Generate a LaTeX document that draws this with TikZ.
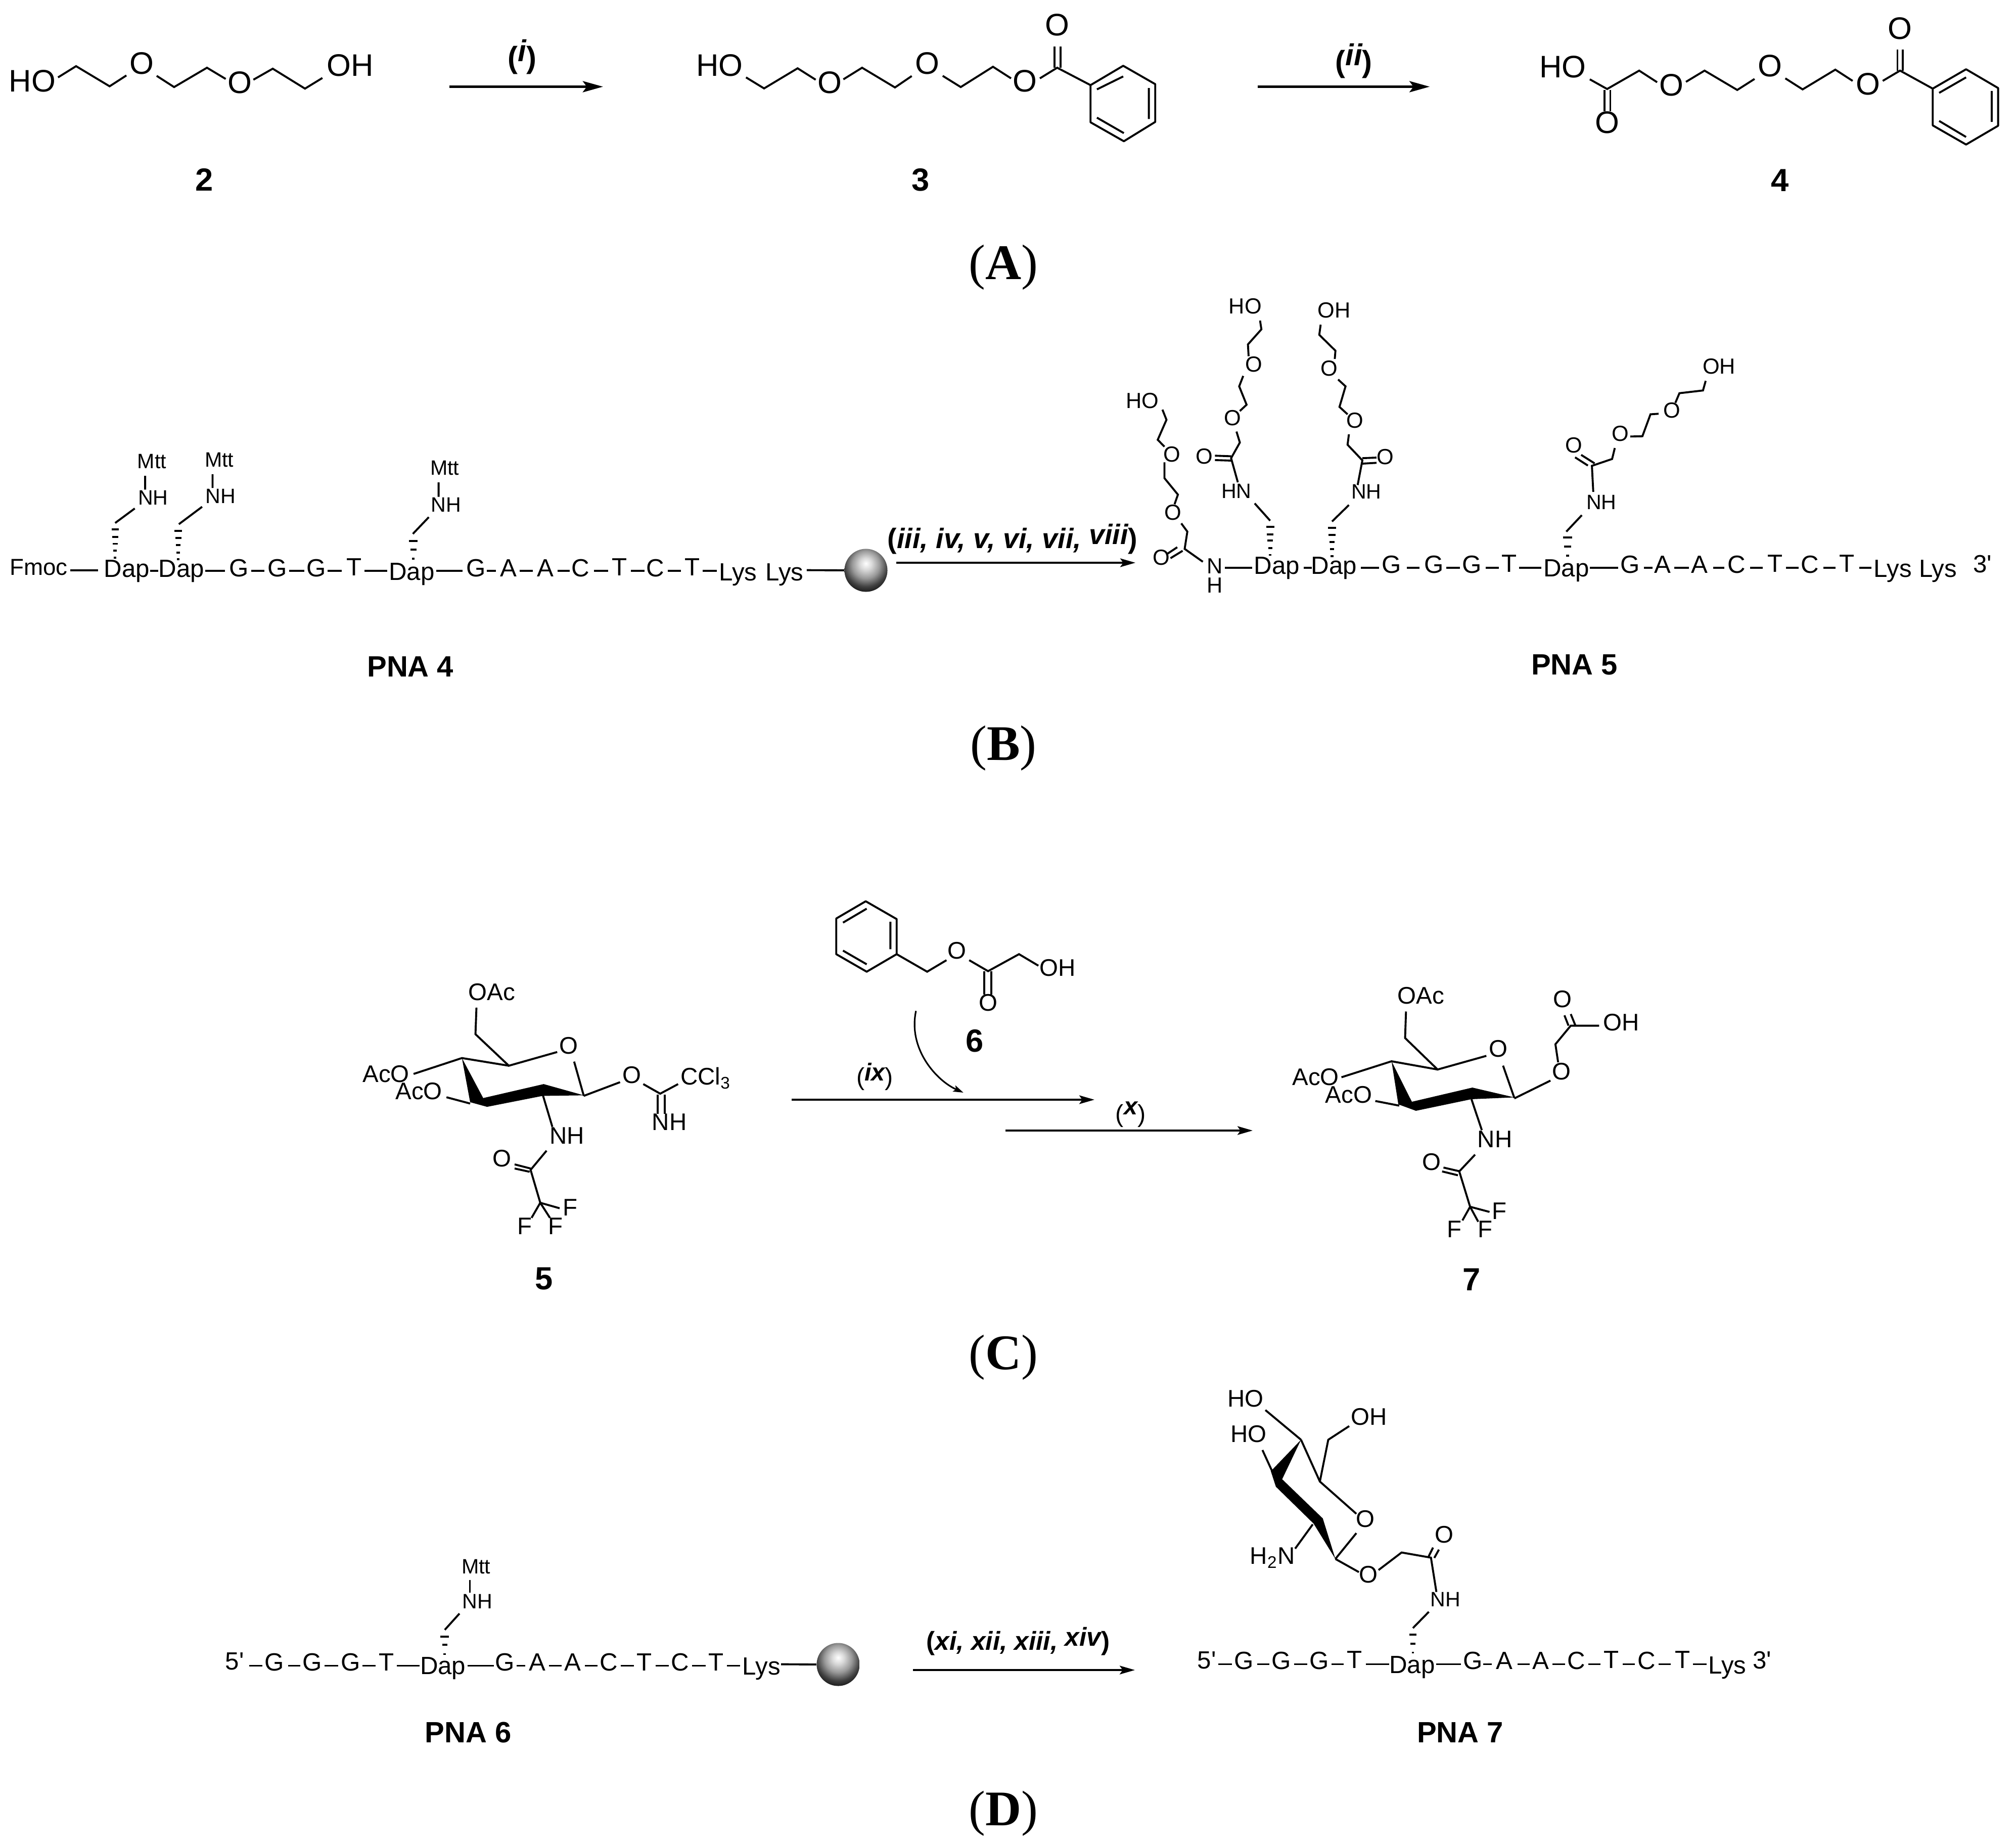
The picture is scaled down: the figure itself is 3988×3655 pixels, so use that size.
\documentclass[tikz,border=0pt]{standalone}
\usepackage{fontspec}
\setmainfont{Liberation Sans}
\newfontfamily\tmsfont{Liberation Serif}
\usetikzlibrary{arrows.meta}
\pgfdeclareradialshading{beadshade}{\pgfpoint{0bp}{8bp}}{color(0bp)=(white);color(7bp)=(gray!30);color(16bp)=(gray!80);color(25bp)=(black!75);color(32bp)=(black!92);color(100bp)=(black)}
\tikzset{
  bond/.style={line width=1.1pt},
  rxnbig/.style={line width=1.3pt,-{Stealth[length=0.4cm,width=0.22cm,inset=0.08cm]}},
  rxn/.style={line width=1.1pt,-{Stealth[length=0.3cm,width=0.17cm,inset=0.06cm]}},
  atA/.style={inner sep=0pt,font=\fontsize{17.5}{18}\selectfont},
  atB/.style={inner sep=0pt,font=\fontsize{12.3}{13}\selectfont},
  atC/.style={inner sep=0pt,font=\fontsize{13.5}{14}\selectfont},
  sml/.style={inner sep=0pt,font=\fontsize{11.7}{12}\selectfont},
  chn/.style={inner sep=0pt,anchor=base,font=\fontsize{14}{15}\selectfont},
  cmpd/.style={inner sep=0pt,font=\fontsize{18}{19}\selectfont\bfseries},
  pna/.style={inner sep=0pt,font=\fontsize{16.5}{18}\selectfont\bfseries},
  part/.style={inner sep=0pt,font=\tmsfont\fontsize{28}{30}\selectfont},
  reagA/.style={inner sep=0pt,font=\fontsize{17}{18}\selectfont\bfseries},
  reagB/.style={inner sep=0pt,font=\fontsize{15.8}{17}\selectfont\bfseries},
  reagC/.style={inner sep=0pt,font=\fontsize{14.6}{16}\selectfont\bfseries},
  reagD/.style={inner sep=0pt,font=\fontsize{13.8}{15}\selectfont},
  bead/.style={circle,inner sep=0pt,minimum size=0.85cm,shading=beadshade},
  zoneA/.style={xscale=1.2755,yscale=.3827},
  zoneB/.style={shift={(2000,0)},xscale=1.2679,yscale=.3827},
  zoneC/.style={shift={(0,800)},xscale=1.2117,yscale=.4783},
  zoneD/.style={shift={(1900,550)},xscale=1.3316,yscale=.5421},
  zoneE/.style={shift={(600,1750)},xscale=.9566,yscale=.5421},
  zoneF/.style={shift={(2000,1850)},xscale=.8929,yscale=.5102},
  zoneG/.style={shift={(2300,2720)},xscale=.8291,yscale=.5102},
  zoneH/.style={shift={(400,3000)},xscale=1.2117,yscale=.4177},
}
\newcommand{\rs}[2]{\raisebox{#1}{\itshape #2}}
\begin{document}
\begin{tikzpicture}[x=0.01cm,y=-0.01cm]
\fill[white] (0,0) rectangle (3988,3655);
\useasboundingbox (0,0) rectangle (3988,3655);

% ---------- (A)
\begin{scope}[zoneA]
  \node[atA] (a2ho) at (50,418) {HO};
  \draw[bond] (90,400)--(118,342)--(170,446)--(196,390);
  \node[atA] (a2o1) at (220,327) {O};
  \draw[bond] (243,392)--(270,450)--(321,350)--(350,408);
  \node[atA] (a2o2) at (372,428) {O};
  \draw[bond] (393,412)--(423,355)--(473,458)--(500,403);
  \node[atA] (a2oh) at (543,338) {OH};
  \node[cmpd] (a2lab) at (317,928) {2};
  \node[atA] (a3ho) at (1116,337) {HO};
  \draw[bond] (1157,400)--(1185,457)--(1237,353)--(1265,412);
  \node[atA] (a3o1) at (1287,428) {O};
  \draw[bond] (1308,410)--(1337,350)--(1388,452)--(1414,393);
  \node[atA] (a3o2) at (1438,327) {O};
  \draw[bond] (1462,392)--(1490,450)--(1540,345)--(1568,405);
  \node[cmpd] (a3lab) at (1428,930) {3};
  \coordinate (a1s) at (697,448);
  \coordinate (a1e) at (935,448);
  \draw[rxnbig] (a1s)--(a1e);
  \node[reagA] (r1) at (810,295) {(\rs{0.13cm}{i})};
\end{scope}
\begin{scope}[zoneB]
  \node[atA] (a3o3) at (22,420) {O};
  \draw[bond] (45,405)--(72,350)--(124,440);
  \draw[bond] (68,240)--(68,350) (77,240)--(77,350);
  \node[atA] (a3o4) at (72,130) {O};
  \draw[bond,line join=round] (124,440)--(175,340)--(225,435)--(225,630)--(176,730)--(124,632)--cycle;
  \draw[bond] (134,462)--(175,395) (215,455)--(215,615) (134,608)--(176,688);
  \coordinate (a2s) at (385,448);
  \coordinate (a2e) at (653,448);
  \draw[rxnbig] (a2s)--(a2e);
  \node[reagA] (r2) at (535,315) {(\rs{0.13cm}{ii})};
  \node[atA] (a4ho) at (861,345) {HO};
  \draw[bond] (903,410)--(930,460)--(980,365)--(1008,425);
  \draw[bond] (926,465)--(926,575) (935,465)--(935,575);
  \node[atA] (a4o0) at (930,632) {O};
  \node[atA] (a4o1) at (1030,440) {O};
  \draw[bond] (1053,423)--(1082,365)--(1133,465)--(1160,408);
  \node[atA] (a4o2) at (1184,340) {O};
  \draw[bond] (1208,405)--(1235,462)--(1286,360)--(1313,418);
  \node[atA] (a4o3) at (1337,435) {O};
  \draw[bond] (1360,418)--(1387,365)--(1438,458);
  \draw[bond] (1383,255)--(1383,365) (1391,255)--(1391,365);
  \node[atA] (a4o4) at (1387,147) {O};
  \draw[bond,line join=round] (1438,458)--(1490,358)--(1540,455)--(1540,650)--(1490,747)--(1438,648)--cycle;
  \draw[bond] (1448,480)--(1490,400) (1530,470)--(1530,630) (1448,625)--(1490,708);
  \node[cmpd] (a4lab) at (1200,932) {4};
\end{scope}
\node[part] (partA) at (1985,529) {(\textbf{A})};

% ---------- (B) left
\begin{scope}[zoneC]
  \node[chn,font=\fontsize{13}{14}\selectfont] (fm) at (63,705) {Fmoc};
  \draw[bond] (115,685)--(160,685);
  \foreach \x/\y/\t in {207/715/Dap,296/715/Dap,390/712/G,453/712/G,516/712/G,578/708/T,672/727/Dap,777/712/G,830/712/A,890/712/A,948/712/C,1011/708/T,1070/712/C,1130/708/T,1205/729/Lys,1281/729/Lys}
    \node[chn] (bl\x) at (\x,\y) {\t};
  \foreach \a/\b in {245/258,335/367,410/432,472/497,535/558,595/632,712/755,795/810,848/870,910/930,970/993,1030/1052,1090/1112,1147/1170}
    \draw[bond] (\a,688)--(\b,688);
  % side chains
  \draw[bond] (188,490)--(220,430) (237,295)--(237,352);
  \node[sml] (blm1) at (248,235) {Mtt};
  \node[sml] (bln1) at (250,385) {NH};
  \draw[bond] (292,495)--(330,423) (347,288)--(347,345);
  \node[sml] (blm2) at (358,228) {Mtt};
  \node[sml] (bln2) at (360,380) {NH};
  \draw[bond] (674,535)--(700,466) (716,322)--(716,382);
  \node[sml] (blm3) at (726,262) {Mtt};
  \node[sml] (bln3) at (728,415) {NH};
  \foreach \y/\w in {517/6,548/5,576/4,605/3,634/2}
    \draw[bond] (188-\w,\y)--(188+\w,\y);
  \foreach \y/\w in {522/6,552/5,582/4,612/3,640/2}
    \draw[bond] (291-\w,\y)--(291+\w,\y);
  \foreach \y/\w in {565/7,600/5,637/2}
    \draw[bond] (675-\w,\y)--(675+\w,\y);
  \node[pna] (pna4) at (670,1085) {PNA 4};
\end{scope}
\node[bead] (bead1) at (1713,1128) {};
\begin{scope}[zoneC]
  \draw[bond] (1317,685)--(bead1.west);
\end{scope}
% arrow B
\coordinate (a3s) at (1773,1113);
\coordinate (a3e) at (2246,1113);
\draw[rxn] (a3s)--(a3e);
\node[reagB] (r3) at (2003,1066) {(\rs{0pt}{iii, iv, v, vi, vii, }\rs{0.08cm}{viii})};

% ---------- (B) right
\begin{scope}[zoneD]
  \foreach \x/\y/\t in {470/1080/Dap,555/1080/Dap,640/1077/G,703/1077/G,760/1077/G,815/1073/T,900/1090/Dap,995/1077/G,1043/1077/A,1098/1077/A,1153/1077/C,1210/1073/T,1262/1077/C,1317/1073/T,1385/1092/Lys,1452/1092/Lys,1518/1075/3\textquotesingle}
    \node[chn] (br\x) at (\x,\y) {\t};
  \foreach \a/\b in {393/433,510/522,595/622,663/682,722/742,780/800,830/863,935/977,1015/1028,1060/1082,1118/1135,1173/1192,1226/1245,1282/1300,1335/1353}
    \draw[bond] (\a,1057)--(\b,1057);
  % branch 1
  \node[atB] (b1ho) at (270,447) {HO};
  \draw[bond] (300,480)--(306,517)--(293,590)--(303,615);
  \node[atB] (b1o1) at (314,643) {O};
  \draw[bond] (303,672)--(303,730)--(323,790)--(318,825);
  \node[atB] (b1o2) at (316,855) {O};
  \draw[bond] (328,895)--(337,925)--(333,988)--(360,1035);
  \draw[bond] (330,995)--(312,1022) (322,982)--(306,1008);
  \node[atB] (b1o3) at (298,1020) {O};
  \node[atB] (b1n) at (378,1050) {N};
  \node[atB] (b1h) at (378,1120) {H};
  % branch 2
  \node[atB] (b2ho) at (423,102) {HO};
  \draw[bond] (445,155)--(447,187)--(427,242)--(428,285);
  \node[atB] (b2o1) at (436,315) {O};
  \draw[bond] (420,357)--(414,395)--(425,462)--(415,485);
  \node[atB] (b2o2) at (404,510) {O};
  \draw[bond] (410,560)--(415,600)--(402,657)--(412,745);
  \draw[bond] (378,648)--(402,650) (378,664)--(403,666);
  \node[atB] (b2o3) at (362,650) {O};
  \node[sml] (b2n) at (410,778) {HN};
  \draw[bond] (437,822)--(460,885);
  \foreach \y/\w in {907/6,935/5,958/4,985/3,1010/2}
    \draw[bond] (460-\w,\y)--(460+\w,\y);
  % branch 3
  \node[atB] (b3oh) at (555,118) {OH};
  \draw[bond] (535,170)--(533,207)--(557,265)--(556,295);
  \node[atB] (b3o1) at (548,330) {O};
  \draw[bond] (561,370)--(572,395)--(563,470)--(575,497);
  \node[atB] (b3o2) at (586,520) {O};
  \draw[bond] (577,570)--(575,608)--(597,665)--(590,755);
  \draw[bond] (597,657)--(618,655) (597,677)--(618,674);
  \node[atB] (b3o3) at (631,652) {O};
  \node[sml] (b3n) at (603,780) {NH};
  \draw[bond] (577,828)--(552,888);
  \foreach \y/\w in {912/6,937/5,963/4,988/3,1015/2}
    \draw[bond] (552-\w,\y)--(552+\w,\y);
  % branch 4
  \node[atB] (b4oh) at (1127,323) {OH};
  \draw[bond] (1107,375)--(1103,410)--(1068,420)--(1062,455);
  \node[atB] (b4o1) at (1057,483) {O};
  \draw[bond] (1037,495)--(1025,497)--(1013,577)--(995,578);
  \node[atB] (b4o2) at (980,568) {O};
  \draw[bond] (972,620)--(968,660)--(938,685)--(940,780);
  \draw[bond] (942,676)--(922,645) (932,684)--(913,654);
  \node[atB] (b4o3) at (911,610) {O};
  \node[sml] (b4n) at (952,817) {NH};
  \draw[bond] (923,865)--(900,925);
  \foreach \y/\w in {947/7,980/5,1012/2}
    \draw[bond] (902-\w,\y)--(902+\w,\y);
  \node[pna] (pna5) at (912,1410) {PNA 5};
\end{scope}
\node[part] (partB) at (1985,1480) {(\textbf{B})};

% ---------- (C) left
\begin{scope}[zoneE]
  \node[atC] (c5oac) at (390,392) {OAc};
  \draw[bond] (358,448)--(356,545)--(425,660)--(525,610);
  \node[atC] (c5o) at (549,587) {O};
  \draw[bond] (560,645)--(580,770);
  \draw[bond] (425,660)--(328,632)--(228,690);
  \node[atC] (c5ac1) at (171,690) {AcO};
  \node[atC] (c5ac2) at (239,752) {AcO};
  \draw[bond] (296,775)--(345,798);
  \fill (328,632)--(372,778)--(497,727)--(580,768)--(495,770)--(380,810)--(345,793)--cycle;
  \draw[bond] (495,765)--(515,883);
  \node[atC] (c5nh) at (545,915) {NH};
  \draw[bond] (580,770)--(655,720);
  \node[atC] (c5o2) at (679,693) {O};
  \draw[bond] (703,727)--(738,762)--(775,727);
  \node[atC] (c5ccl) at (832,706) {CCl$_{\mathrm{3}}$};
  \draw[bond] (733,765)--(733,835) (747,765)--(747,835);
  \node[atC] (c5nh2) at (757,865) {NH};
  \draw[bond] (503,970)--(470,1040)--(490,1160)--(530,1180);
  \draw[bond] (437,1020)--(470,1035) (437,1035)--(468,1047);
  \node[atC] (c5co) at (411,998) {O};
  \draw[bond] (472,1215)--(490,1160)--(510,1215);
  \node[atC] (c5f1) at (552,1178) {F};
  \node[atC] (c5f2) at (458,1245) {F};
  \node[atC] (c5f3) at (522,1245) {F};
  \node[cmpd] (c5lab) at (498,1437) {5};
  % compound 6
  \draw[bond,line join=round] (1163,60)--(1227,125)--(1227,253)--(1165,317)--(1102,253)--(1102,123)--cycle;
  \draw[bond] (1116,138)--(1165,87) (1214,135)--(1214,235) (1116,240)--(1165,290);
  \draw[bond] (1227,253)--(1290,317)--(1330,275);
  \node[atC] (c6o) at (1352,240) {O};
  \draw[bond] (1377,275)--(1416,315)--(1480,253)--(1520,295);
  \draw[bond] (1408,315)--(1408,400) (1423,315)--(1423,400);
  \node[atC] (c6co) at (1416,430) {O};
  \node[atC] (c6oh) at (1560,302) {OH};
  \node[cmpd] (c6lab) at (1388,570) {6};
  \coordinate (c6s) at (1267,460);
  \coordinate (c6e) at (1365,758);
  \draw[line width=0.9pt,-{Stealth[length=0.2cm,width=0.13cm,inset=0.04cm]}] (c6s) .. controls (1250,600) and (1310,715) .. (c6e);
  \node[reagD] (r9) at (1182,700) {(\textbf{\rs{0.09cm}{ix}})};
\end{scope}
\coordinate (c1s) at (1566,2175);
\coordinate (c1e) at (2165,2175);
\draw[rxn] (c1s)--(c1e);
\coordinate (c2s) at (1989,2236);
\coordinate (c2e) at (2478,2236);
\draw[rxn] (c2s)--(c2e);

% ---------- (C) right
\begin{scope}[zoneF]
  \node[reagD] (r10) at (265,695) {(\textbf{\rs{0.15cm}{x}})};
  \node[atC] (c7oac) at (908,233) {OAc};
  \draw[bond] (875,295)--(873,398)--(945,520)--(1053,467);
  \node[atC] (c7o) at (1080,440) {O};
  \draw[bond] (1090,505)--(1115,630);
  \draw[bond] (945,520)--(843,488)--(732,550);
  \node[atC] (c7ac1) at (675,550) {AcO};
  \node[atC] (c7ac2) at (748,618) {AcO};
  \draw[bond] (807,642)--(860,660);
  \fill (843,488)--(888,645)--(1022,590)--(1115,628)--(1020,635)--(897,680)--(858,655)--cycle;
  \draw[bond] (1020,635)--(1043,755);
  \node[atC] (c7nh) at (1072,790) {NH};
  \draw[bond] (1115,632)--(1195,563);
  \node[atC] (c7o2) at (1219,528) {O};
  \draw[bond] (1212,492)--(1206,422)--(1240,350)--(1303,350);
  \draw[bond] (1226,310)--(1235,350) (1240,305)--(1250,348);
  \node[atC] (c7co) at (1222,247) {O};
  \node[atC] (c7oh) at (1352,337) {OH};
  \draw[bond] (1028,850)--(993,915)--(1017,1052)--(1060,1072);
  \draw[bond] (958,900)--(995,915) (955,915)--(990,930);
  \node[atC] (c7co2) at (932,878) {O};
  \draw[bond] (1000,1105)--(1017,1052)--(1035,1110);
  \node[atC] (c7f1) at (1082,1068) {F};
  \node[atC] (c7f2) at (982,1140) {F};
  \node[atC] (c7f3) at (1050,1140) {F};
  \node[cmpd] (c7lab) at (1020,1335) {7};
\end{scope}
\node[part] (partC) at (1985,2685) {(\textbf{C})};

% ---------- (D) left
\begin{scope}[zoneH]
  \node[sml] (dm) at (447,235) {Mtt};
  \draw[bond] (437,298)--(437,360);
  \node[sml] (dn) at (449,400) {NH};
  \draw[bond] (420,458)--(396,535);
  \foreach \y/\w in {567/7,605/4,650/2}
    \draw[bond] (396-\w,\y)--(396+\w,\y);
  \foreach \x/\y/\t in {53/725/5\textquotesingle,118/730/G,180/730/G,242/730/G,301/728/T,393/745/Dap,494/730/G,547/730/A,605/730/A,664/730/C,722/728/T,780/730/C,839/728/T,913/748/Lys}
    \node[chn] (dl\x) at (\x,\y) {\t};
  \foreach \a/\b in {77/98,140/160,200/222,262/283,318/355,433/476,513/527,566/587,625/645,683/705,740/762,800/822,857/878}
    \draw[bond] (\a,705)--(\b,705);
  \node[pna] (pna6) at (434,1020) {PNA 6};
\end{scope}
\node[bead] (bead2) at (1658,3292) {};
\begin{scope}[zoneH]
  \draw[bond] (945,698)--(bead2.west);
\end{scope}
\coordinate (d1s) at (1806,3303);
\coordinate (d1e) at (2245,3303);
\draw[rxn] (d1s)--(d1e);
\node[reagC] (r11) at (2014,3246) {(\rs{0pt}{xi, xii, xiii, }\rs{0.08cm}{xiv})};
\node[part] (partD) at (1985,3587) {(\textbf{D})};

% ---------- (D) right
\begin{scope}[zoneG]
  \node[atC] (d7ho1) at (198,90) {HO};
  \draw[bond] (245,135)--(330,250);
  \node[atC] (d7ho2) at (205,228) {HO};
  \draw[bond] (238,290)--(262,375);
  \node[atC] (d7oh) at (492,160) {OH};
  \draw[bond] (445,197)--(395,250)--(375,412);
  \draw[bond] (330,250)--(375,412)--(462,537);
  \node[atC] (d7o) at (483,557) {O};
  \draw[bond] (462,612)--(412,712);
  \fill (330,250)--(285,403)--(382,555)--(412,712)--(360,575)--(270,432)--(258,372)--cycle;
  \draw[bond] (358,578)--(316,672);
  \node[atC] (d7nh2) at (262,708) {H$_{\mathrm{2}}$N};
  \draw[bond] (412,712)--(468,763);
  \node[atC] (d7o2) at (491,772) {O};
  \draw[bond] (515,755)--(570,687)--(640,707)--(653,840);
  \draw[bond] (634,704)--(645,668) (648,708)--(659,676);
  \node[atC] (d7co) at (672,617) {O};
  \node[sml] (d7nh) at (675,868) {NH};
  \draw[bond] (635,917)--(597,980);
  \foreach \y/\w in {1005/9,1040/6,1075/2}
    \draw[bond] (597-\w,\y)--(597+\w,\y);
  \foreach \x/\y/\t in {105/1137/5\textquotesingle,194/1140/G,283/1140/G,373/1140/G,458/1135/T,595/1155/Dap,740/1140/G,815/1140/A,902/1140/A,987/1140/C,1070/1135/T,1155/1140/C,1240/1135/T,1347/1158/Lys,1430/1137/3\textquotesingle}
    \node[chn] (dr\x) at (\x,\y) {\t};
  \foreach \a/\b in {133/165,225/255,313/345,403/432,485/540,652/712,765/785,847/875,930/960,1015/1045,1098/1127,1183/1212,1265/1298}
    \draw[bond] (\a,1120)--(\b,1120);
  \node[pna] (pna7) at (710,1385) {PNA 7};
\end{scope}
\end{tikzpicture}
\end{document}
